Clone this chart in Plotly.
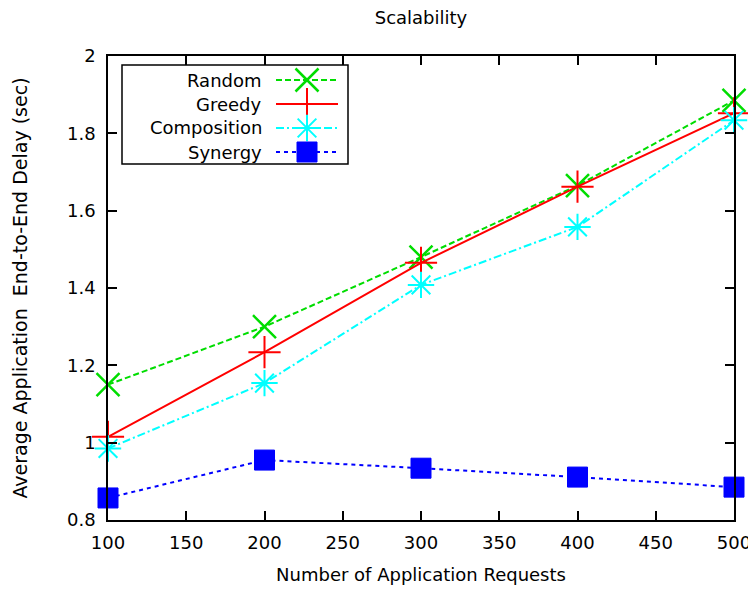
import plotly.graph_objects as go

requests = [100, 200, 300, 400, 500]
random_delay = [1.15, 1.30, 1.48, 1.665, 1.885]
greedy_delay = [1.015, 1.234, 1.465, 1.662, 1.852]
composition_delay = [0.985, 1.154, 1.408, 1.558, 1.834]
synergy_delay = [0.857, 0.955, 0.934, 0.911, 0.885]

x_ticks = [100, 150, 200, 250, 300, 350, 400, 450, 500]
y_ticks = [0.8, 1.0, 1.2, 1.4, 1.6, 1.8, 2.0]
y_ticktext = ["0.8", "1", "1.2", "1.4", "1.6", "1.8", "2"]

series = [
    ("Random", random_delay, "#00dd00", "6px,3px", "x-thin-open", 23, 2.5),
    ("Greedy", greedy_delay, "#ff0000", "solid", "cross-thin-open", 23, 2),
    ("Composition", composition_delay, "#00ffff", "8px,3px,2px,3px", "asterisk-open", 22, 2),
    ("Synergy", synergy_delay, "#0000ff", "4px,4px", "square", 20, 1),
]

FONT = "DejaVu Sans, Verdana, sans-serif"

# window coordinates of the plot area (page has an 8px body margin);
# figure sized so that the page does not overflow the window
OFF = 8
WIN_W, WIN_H = 756, 593
L, R, T, B = 108, 734, 56, 520
FIG_W, FIG_H = WIN_W - OFF, WIN_H - 2 * OFF


def px(x):
    return (x - L) / (R - L)


def py(y):
    return (B - y) / (B - T)


fig = go.Figure()
for name, ys, color, dash, sym, size, lw in series:
    fig.add_trace(go.Scatter(
        x=requests, y=ys, name=name, mode="lines+markers",
        line=dict(color=color, width=2, dash=dash),
        marker=dict(symbol=sym, size=size, color=color,
                    line=dict(color=color, width=lw)),
        showlegend=False, cliponaxis=False,
    ))

# gnuplot-style key (text then sample)
row_y = [80, 104, 128, 152]
for (name, ys, color, dash, sym, size, lw), ry in zip(series, row_y):
    fig.add_shape(type="line", xref="paper", yref="paper",
                  x0=px(276), x1=px(338), y0=py(ry), y1=py(ry),
                  line=dict(color=color, width=2, dash=dash))
    fig.add_trace(go.Scatter(
        x=[px(307)], y=[py(ry)], xaxis="x2", yaxis="y2", mode="markers",
        marker=dict(symbol=sym, size=size, color=color,
                    line=dict(color=color, width=lw)),
        showlegend=False, hoverinfo="skip", cliponaxis=False,
    ))
    fig.add_annotation(xref="paper", yref="paper", x=px(264), y=py(ry),
                       text=name, showarrow=False, xanchor="right",
                       yanchor="middle",
                       font=dict(family=FONT, size=18, color="black"))
fig.add_shape(type="rect", xref="paper", yref="paper",
              x0=px(122), x1=px(348), y0=py(164), y1=py(65),
              line=dict(color="black", width=1.5))

axis_common = dict(showgrid=False, zeroline=False, ticks="inside", ticklen=9,
                   tickwidth=1.5, tickcolor="black", showline=True,
                   linecolor="black", linewidth=1.5, mirror="ticks",
                   automargin=False,
                   tickfont=dict(family=FONT, size=18, color="black"))
fig.update_layout(
    width=FIG_W, height=FIG_H,
    margin=dict(l=L - OFF, r=FIG_W - (R - OFF), t=T - OFF, b=FIG_H - (B - OFF)),
    paper_bgcolor="white", plot_bgcolor="white",
    title=dict(text="Scalability", x=(421 - OFF) / FIG_W, xanchor="center",
               y=1 - (18 - OFF) / FIG_H, yanchor="middle",
               font=dict(family=FONT, size=18, color="black")),
    xaxis=dict(range=[100, 500], tickvals=x_ticks, ticklabelstandoff=6,
               title=dict(text="Number of Application Requests",
                          font=dict(family=FONT, size=18, color="black"),
                          standoff=18),
               **axis_common),
    yaxis=dict(range=[0.8, 2.0], tickvals=y_ticks, ticktext=y_ticktext,
               ticklabelstandoff=7,
               title=dict(text="Average Application  End-to-End Delay (sec)",
                          font=dict(family=FONT, size=19, color="black"),
                          standoff=34),
               **axis_common),
    xaxis2=dict(overlaying="x", range=[0, 1], visible=False),
    yaxis2=dict(overlaying="y", range=[0, 1], visible=False),
)

fig.write_html("out.html")
